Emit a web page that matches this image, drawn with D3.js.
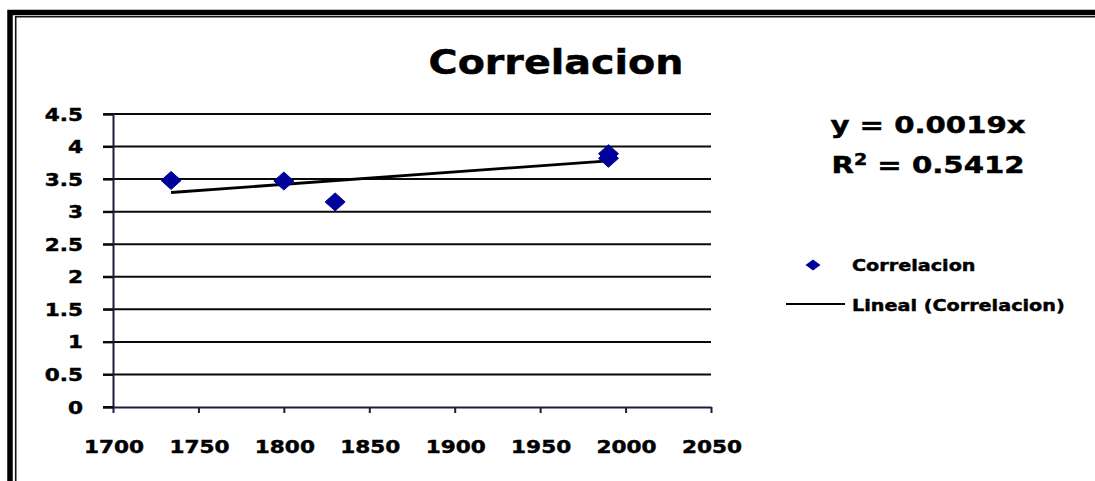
<!DOCTYPE html>
<html>
<head>
<meta charset="utf-8">
<script src="https://cdn.jsdelivr.net/npm/d3@7"></script>
<style>
  html, body { margin: 0; padding: 0; background: #ffffff; }
  svg { display: block; }
  text { font-family: "DejaVu Sans", Verdana, sans-serif; font-weight: bold; fill: #000; stroke: #000; stroke-width: 0.45px; }
</style>
</head>
<body>
<svg id="chart" width="1095" height="481"></svg>
<script>
// Observations: year vs. correlation value
const years  = [1734, 1800, 1830, 1990, 1990];
const values = [3.48, 3.47, 3.15, 3.89, 3.82];

// Linear trend through the origin and its fit
const trendSlope = 0.0019;
const rSquared = 0.5412;

// Axis ticks and their labels
const xTicks = [1700, 1750, 1800, 1850, 1900, 1950, 2000, 2050];
const xTickLabels = ["1700", "1750", "1800", "1850", "1900", "1950", "2000", "2050"];
const yTicks = [0, 0.5, 1, 1.5, 2, 2.5, 3, 3.5, 4, 4.5];
const yTickLabels = ["0", "0.5", "1", "1.5", "2", "2.5", "3", "3.5", "4", "4.5"];

const titleText = "Correlacion";
const seriesName = "Correlacion";
const trendName = "Lineal (Correlacion)";

const svg = d3.select("#chart");
const W = 1095, H = 481;
const stretch = 1.2; // wide lettering

const x = d3.scaleLinear().domain([1700, 2050]).range([113, 711]);
const y = d3.scaleLinear().domain([0, 4.5]).range([407, 114]);

// Outer frame (double line on top and left)
svg.append("path")
  .attr("d", `M10,${H + 5} L10,12.5 L${W + 5},12.5`)
  .attr("fill", "none").attr("stroke", "#000").attr("stroke-width", 5.5);
svg.append("path")
  .attr("d", `M15.7,${H + 5} L15.7,16.7 L${W + 5},16.7`)
  .attr("fill", "none").attr("stroke", "#111").attr("stroke-width", 1.6);

// Title
svg.append("text")
  .attr("transform", `translate(556,74) scale(${stretch},1)`)
  .attr("text-anchor", "middle")
  .style("font-size", "33px")
  .text(titleText);

// Horizontal gridlines
const plotLeft = x.range()[0], plotRight = x.range()[1];
svg.append("g").selectAll("line")
  .data(yTicks.filter(d => d > 0))
  .join("line")
  .attr("x1", plotLeft - 10).attr("x2", plotRight)
  .attr("y1", d => y(d)).attr("y2", d => y(d))
  .attr("stroke", "#0a0a0a").attr("stroke-width", 2);

// Y axis
const yAxis = svg.append("g")
  .attr("transform", `translate(${plotLeft},0)`)
  .call(d3.axisLeft(y).tickValues(yTicks).tickSize(10).tickFormat(""));
yAxis.select(".domain").attr("stroke", "#1c1c3c").attr("stroke-width", 2);
yAxis.selectAll(".tick line").attr("stroke", "#0a0a0a").attr("stroke-width", 2);

// X axis
const xAxis = svg.append("g")
  .attr("transform", `translate(0,${y(0)})`)
  .call(d3.axisBottom(x).tickValues(xTicks).tickSize(6).tickSizeOuter(0).tickFormat(""));
xAxis.select(".domain").attr("stroke", "#1c1c3c").attr("stroke-width", 2);
xAxis.selectAll(".tick line").attr("stroke", "#1c1c3c").attr("stroke-width", 2);
// left stub of the zero line
svg.append("line")
  .attr("x1", plotLeft - 10).attr("x2", plotLeft)
  .attr("y1", y(0)).attr("y2", y(0))
  .attr("stroke", "#0a0a0a").attr("stroke-width", 2);

// Y tick labels
svg.append("g").selectAll("text")
  .data(yTicks)
  .join("text")
  .attr("transform", (d) => `translate(83,${y(d) + 6.5}) scale(${stretch},1)`)
  .attr("text-anchor", "end")
  .style("font-size", "18px")
  .text((d, i) => yTickLabels[i]);

// X tick labels
svg.append("g").selectAll("text")
  .data(xTicks)
  .join("text")
  .attr("transform", (d) => `translate(${x(d) + 1},452.5) scale(${stretch},1)`)
  .attr("text-anchor", "middle")
  .style("font-size", "18px")
  .text((d, i) => xTickLabels[i]);

// Trend line y = slope * x over the observed range
const xMin = d3.min(years), xMax = d3.max(years);
svg.append("line")
  .attr("x1", x(xMin)).attr("y1", y(trendSlope * xMin))
  .attr("x2", x(xMax)).attr("y2", y(trendSlope * xMax))
  .attr("stroke", "#000").attr("stroke-width", 2.8);

// Diamond marker path
const diamond = (hw, hh) => `M0,${-hh} L${hw},0 L0,${hh} L${-hw},0 Z`;
const pointColor = "#00009a";

svg.append("g").selectAll("path")
  .data(years.map((yr, i) => ({ yr, v: values[i] })))
  .join("path")
  .attr("transform", d => `translate(${x(d.yr)},${y(d.v)})`)
  .attr("d", diamond(10, 9))
  .attr("fill", pointColor)
  .attr("stroke", pointColor)
  .attr("stroke-width", 1)
  .attr("stroke-linejoin", "round");

// Regression equation
const eq = svg.append("g").style("font-size", "23px");
eq.append("text")
  .attr("transform", `translate(928,133) scale(1.27,1)`)
  .attr("text-anchor", "middle")
  .text(`y = ${trendSlope}x`);
const r2 = eq.append("text")
  .attr("transform", `translate(928,173) scale(1.27,1)`)
  .attr("text-anchor", "middle");
r2.append("tspan").text("R");
r2.append("tspan").attr("dy", -8).style("font-size", "15px").text("2");
r2.append("tspan").attr("dy", 8).text(` = ${rSquared}`);

// Legend
const legend = svg.append("g");
legend.append("path")
  .attr("transform", "translate(813,265)")
  .attr("d", diamond(7.5, 5.5))
  .attr("fill", pointColor);
legend.append("text")
  .attr("transform", `translate(852,271) scale(${stretch},1)`)
  .style("font-size", "16px")
  .text(seriesName);
legend.append("line")
  .attr("x1", 786).attr("x2", 845).attr("y1", 304).attr("y2", 304)
  .attr("stroke", "#000").attr("stroke-width", 2);
legend.append("text")
  .attr("transform", `translate(852,311) scale(${stretch},1)`)
  .style("font-size", "16px")
  .text(trendName);
</script>
</body>
</html>
